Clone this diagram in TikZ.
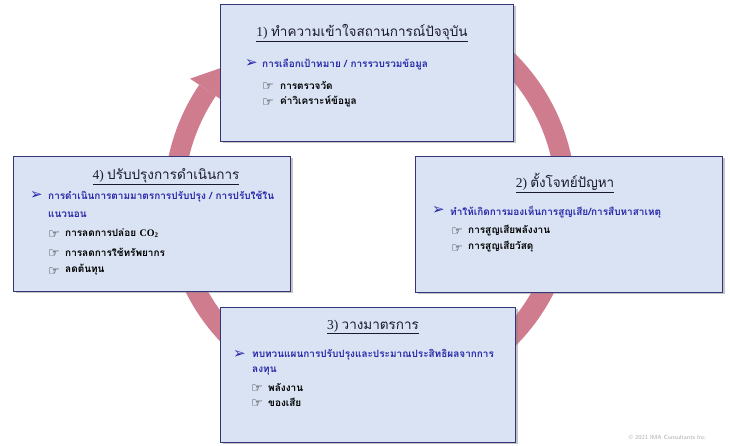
\documentclass[tikz,border=0pt]{standalone}
\usepackage{fontspec}
\setmainfont{Liberation Serif}
\newfontfamily\thaifont[Script=Thai]{Loma}
\newfontfamily\symfont{DejaVu Sans}
\usetikzlibrary{shadows}
\definecolor{boxfill}{RGB}{217,227,243}
\definecolor{boxborder}{RGB}{52,52,118}
\definecolor{ringcol}{RGB}{206,124,142}
\definecolor{bulletblue}{RGB}{40,40,170}
\definecolor{titlecol}{RGB}{26,26,46}
\definecolor{copycol}{RGB}{170,170,170}
\begin{document}
\begin{tikzpicture}[x=1pt,y=1pt,
  box/.style={draw=boxborder, line width=1.2pt, fill=boxfill,
    drop shadow={shadow xshift=2pt, shadow yshift=-2pt, fill=black!50, opacity=0.45},
    inner sep=0pt, anchor=south west},
  ttl/.style={anchor=center, inner sep=0pt, text=titlecol, font=\fontsize{13.5}{15}\selectfont},
  arw/.style={anchor=west, inner sep=0pt, text=bulletblue, font=\symfont\fontsize{15}{15}\selectfont},
  blt/.style={anchor=west, inner sep=0pt, text=bulletblue, font=\thaifont\bfseries\fontsize{10}{12}\selectfont},
  hand/.style={anchor=west, inner sep=0pt, text=black, font=\symfont\fontsize{13}{13}\selectfont},
  sub/.style={anchor=west, inner sep=0pt, text=black, font=\thaifont\bfseries\fontsize{10}{12}\selectfont}
]
\useasboundingbox[fill=white] (0,0) rectangle (730,445);
% ring
\coordinate (C) at (370,245);
\draw[ringcol, line width=20pt] ([shift={(146:196)}]C) arc[start angle=146, end angle=410, radius=196];
\coordinate (hb) at ([shift={(146:196)}]C);
\fill[ringcol] ([shift={(146:217)}]C) -- ([shift={(146:175)}]C) -- ([shift={(56:28)}]hb) -- cycle;
% boxes
\node[box, minimum width=293pt, minimum height=137pt] (box1) at (220,303) {};
\node[box, minimum width=307pt, minimum height=136pt] (box2) at (415,152) {};
\node[box, minimum width=295pt, minimum height=135pt] (box3) at (220,2) {};
\node[box, minimum width=277pt, minimum height=135pt] (box4) at (13,153) {};
% box 1
\node[ttl] (t1) at (362,412) {\underline{1) {\thaifont ทำความเข้าใจสถานการณ์ปัจจุบัน}}};
\node[arw] (a1) at (245,381) {➢};
\node[blt] (b1) at (262,380) {การเลือกเป้าหมาย / การรวบรวมข้อมูล};
\node[hand] (h11) at (262,358.5) {☞};
\node[sub] (s11) at (280,360) {การตรวจวัด};
\node[hand] (h12) at (262,342.5) {☞};
\node[sub] (s12) at (280,344) {ค่าวิเคราะห์ข้อมูล};
% box 2
\node[ttl] (t2) at (565,262) {\underline{2) {\thaifont ตั้งโจทย์ปัญหา}}};
\node[arw] (a2) at (432,234) {➢};
\node[blt] (b2) at (450,233) {ทำให้เกิดการมองเห็นการสูญเสีย/การสืบหาสาเหตุ};
\node[hand] (h21) at (451,213.5) {☞};
\node[sub] (s21) at (468,215) {การสูญเสียพลังงาน};
\node[hand] (h22) at (451,196.5) {☞};
\node[sub] (s22) at (468,198) {การสูญเสียวัสดุ};
% box 3
\node[ttl] (t3) at (373,118) {\underline{3) {\thaifont วางมาตรการ}}};
\node[arw] (a3) at (233,91) {➢};
\node[blt] (b3) at (252,90) {ทบทวนแผนการปรับปรุงและประมาณประสิทธิผลจากการ};
\node[blt] (b3b) at (252,74) {ลงทุน};
\node[hand] (h31) at (251,56.5) {☞};
\node[sub] (s31) at (268,58) {พลังงาน};
\node[hand] (h32) at (251,41.5) {☞};
\node[sub] (s32) at (268,43) {ของเสีย};
% box 4
\node[ttl] (t4) at (166,268) {\underline{4) {\thaifont ปรับปรุงการดำเนินการ}}};
\node[arw] (a4) at (30,249) {➢};
\node[blt] (b4) at (48,248) {การดำเนินการตามมาตรการปรับปรุง / การปรับใช้ใน};
\node[blt] (b4b) at (48,230) {แนวนอน};
\node[hand] (h41) at (48,210.5) {☞};
\node[sub] (s41) at (65,212) {การลดการปล่อย {\rmfamily\bfseries CO\textsubscript{2}}};
\node[hand] (h42) at (48,191.5) {☞};
\node[sub] (s42) at (65,193) {การลดการใช้ทรัพยากร};
\node[hand] (h43) at (48,173.5) {☞};
\node[sub] (s43) at (65,175) {ลดต้นทุน};
% copyright
\node[anchor=east, inner sep=0pt, text=copycol, font=\sffamily\fontsize{6}{7}\selectfont] (cp) at (707,8) {© 2021 IMA Consultants Inc.};
\end{tikzpicture}
\end{document}
